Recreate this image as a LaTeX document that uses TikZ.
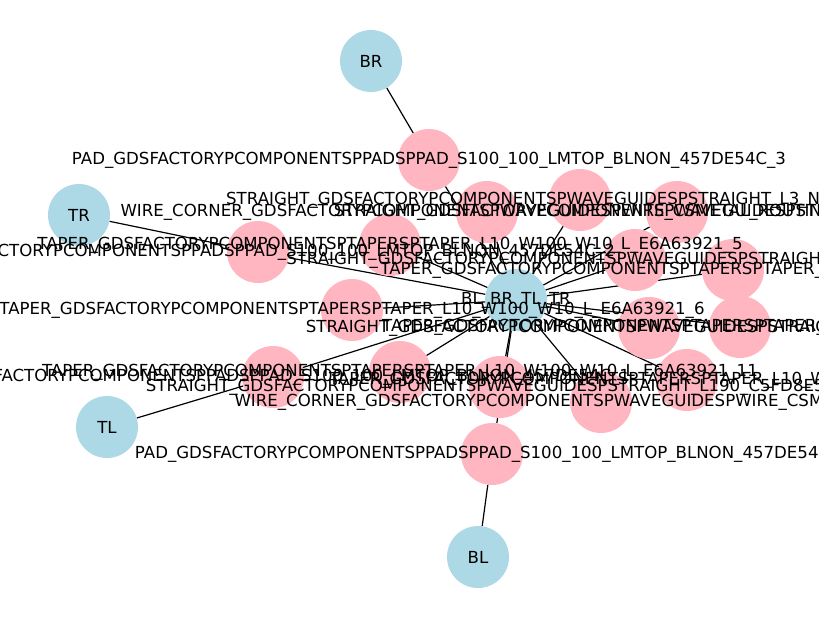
\documentclass[tikz,border=0pt]{standalone}
\usepackage{fontspec}
\setmainfont{DejaVu Sans}
\usepackage{tikz}
\usetikzlibrary{backgrounds}
\definecolor{PortBlue}{HTML}{ADD8E6}
\definecolor{InstPink}{HTML}{FFB6C1}

\begin{document}
\begin{tikzpicture}[x=1pt,y=-1pt,
    every node/.style={font=\fontsize{16.6}{18}\selectfont},
    port/.style={circle,fill=PortBlue,minimum size=62pt,inner sep=0pt},
    inst/.style={circle,fill=InstPink,minimum size=62pt,inner sep=0pt},
    lbl/.style={inner sep=0pt,text=black},
    ln/.style={line width=1.2pt,black}]
  \useasboundingbox (0,0) rectangle (819,619);
  % ports and the merged port node
  \node[port] (hub) at (516,300) {};
  \node[port] (br)  at (371,61)  {};
  \node[port] (tr)  at (79,215)  {};
  \node[port] (tl)  at (107,427) {};
  \node[port] (bl)  at (478,557) {};
  % instances
  \node[inst] (padA)   at (429,160) {};
  \node[inst] (wireA)  at (487,212) {};
  \node[inst] (strA)   at (580,200) {};
  \node[inst] (strB)   at (677,212) {};
  \node[inst] (padB)   at (258,252) {};
  \node[inst] (taperA) at (390,245) {};
  \node[inst] (strC)   at (635,260) {};
  \node[inst] (taperB) at (733,270) {};
  \node[inst] (taperC) at (352,310) {};
  \node[inst] (strD)   at (649,328) {};
  \node[inst] (taperD) at (740,327) {};
  \node[inst] (padC)   at (273,377) {};
  \node[inst] (taperE) at (400,372) {};
  \node[inst] (strE)   at (500,387) {};
  \node[inst] (taperF) at (687,380) {};
  \node[inst] (wireB)  at (601,402) {};
  \node[inst] (padD)   at (492,454) {};
  \begin{scope}[on background layer]
    \draw[ln] (br)--(padA); \draw[ln] (tr)--(padB);
    \draw[ln] (tl)--(padC); \draw[ln] (bl)--(padD);
    \draw[ln] (padA)--(hub); \draw[ln] (padB)--(hub);
    \draw[ln] (padC)--(hub); \draw[ln] (padD)--(hub);
    \draw[ln] (wireA)--(hub); \draw[ln] (strA)--(hub);
    \draw[ln] (strB)--(hub); \draw[ln] (taperA)--(hub);
    \draw[ln] (strC)--(hub); \draw[ln] (taperB)--(hub);
    \draw[ln] (taperC)--(hub); \draw[ln] (strD)--(hub);
    \draw[ln] (taperD)--(hub); \draw[ln] (taperE)--(hub);
    \draw[ln] (strE)--(hub); \draw[ln] (taperF)--(hub);
    \draw[ln] (wireB)--(hub);
  \end{scope}
  % labels
  \node[lbl] (hub-t) at (hub) {BL\_BR\_TL\_TR};
  \node[lbl] (br-t) at (br) {BR};
  \node[lbl] (tr-t) at (tr) {TR};
  \node[lbl] (tl-t) at (tl) {TL};
  \node[lbl] (bl-t) at (bl) {BL};
  \node[lbl] (padA-t) at (padA) {PAD\_GDSFACTORYPCOMPONENTSPPADSPPAD\_S100\_100\_LMTOP\_BLNON\_457DE54C\_3};
  \node[lbl] (wireA-t) at (wireA) {WIRE\_CORNER\_GDSFACTORYPCOMPONENTSPWAVEGUIDESPWIRE\_CSMETAL\_ROUTING\_1};
  \node[lbl] (strA-t) at (strA) {STRAIGHT\_GDSFACTORYPCOMPONENTSPWAVEGUIDESPSTRAIGHT\_L3\_N2\_CS5FD8E\_9};
  \node[lbl] (strB-t) at (strB) {STRAIGHT\_GDSFACTORYPCOMPONENTSPWAVEGUIDESPSTRAIGHT\_L10\_N2\_CSXS\_2};
  \node[lbl] (padB-t) at (padB) {PAD\_GDSFACTORYPCOMPONENTSPPADSPPAD\_S100\_100\_LMTOP\_BLNON\_457DE54C\_2};
  \node[lbl] (taperA-t) at (taperA) {TAPER\_GDSFACTORYPCOMPONENTSPTAPERSPTAPER\_L10\_W100\_W10\_L\_E6A63921\_5};
  \node[lbl] (strC-t) at (strC) {STRAIGHT\_GDSFACTORYPCOMPONENTSPWAVEGUIDESPSTRAIGHT\_L20\_N2\_CSXS\_3A};
  \node[lbl] (taperB-t) at (taperB) {TAPER\_GDSFACTORYPCOMPONENTSPTAPERSPTAPER\_L10\_W100\_W10\_L\_E6A63921\_7};
  \node[lbl] (taperC-t) at (taperC) {TAPER\_GDSFACTORYPCOMPONENTSPTAPERSPTAPER\_L10\_W100\_W10\_L\_E6A63921\_6};
  \node[lbl] (strD-t) at (strD) {STRAIGHT\_GDSFACTORYPCOMPONENTSPWAVEGUIDESPSTRAIGHT\_L30\_N2\_CSXS\_4};
  \node[lbl] (taperD-t) at (taperD) {TAPER\_GDSFACTORYPCOMPONENTSPTAPERSPTAPER\_L10\_W100\_W10\_L\_E6A63921\_12};
  \node[lbl] (padC-t) at (padC) {PAD\_GDSFACTORYPCOMPONENTSPPADSPPAD\_S100\_100\_LMTOP\_BLNON\_457DE54C\_1};
  \node[lbl] (taperE-t) at (taperE) {TAPER\_GDSFACTORYPCOMPONENTSPTAPERSPTAPER\_L10\_W100\_W10\_L\_E6A63921\_11};
  \node[lbl] (strE-t) at (strE) {STRAIGHT\_GDSFACTORYPCOMPONENTSPWAVEGUIDESPSTRAIGHT\_L190\_C5FD8E55\_8};
  \node[lbl] (taperF-t) at (taperF) {TAPER\_GDSFACTORYPCOMPONENTSPTAPERSPTAPER\_L10\_W100\_W10\_L\_E6A63921\_10};
  \node[lbl] (wireB-t) at (wireB) {WIRE\_CORNER\_GDSFACTORYPCOMPONENTSPWAVEGUIDESPWIRE\_CSMETAL\_ROUTING\_2};
  \node[lbl] (padD-t) at (padD) {PAD\_GDSFACTORYPCOMPONENTSPPADSPPAD\_S100\_100\_LMTOP\_BLNON\_457DE54C\_4};
\end{tikzpicture}
\end{document}
